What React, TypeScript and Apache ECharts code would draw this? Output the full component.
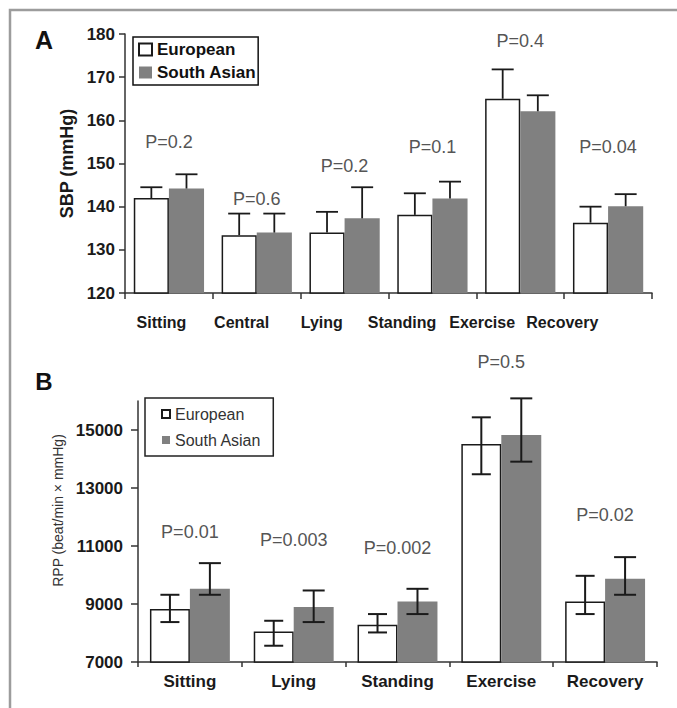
import React, { useEffect, useRef } from 'react';
import * as echarts from 'echarts';

const FONT = '"Liberation Sans", Arial, Helvetica, sans-serif';

// Panel A: SBP (mmHg)
const categoriesA = ['Sitting', 'Central', 'Lying', 'Standing', 'Exercise', 'Recovery'];
const europeanA = [142, 133.4, 134, 138.1, 165, 136.3];
const southAsianA = [144.2, 134, 137.3, 141.9, 162.1, 140.1];
const europeanAErrTop = [144.5, 138.4, 138.8, 143.1, 171.8, 140];
const southAsianAErrTop = [147.5, 138.4, 144.5, 145.8, 165.8, 142.9];
const pValuesA = ['P=0.2', 'P=0.6', 'P=0.2', 'P=0.1', 'P=0.4', 'P=0.04'];
const pLabelLevelA = [155, 141.8, 149.4, 153.8, 178.4, 153.8];
const axisMinA = 120;
const axisMaxA = 180;
const axisStepA = 10;

// Panel B: RPP (beat/min x mmHg)
const categoriesB = ['Sitting', 'Lying', 'Standing', 'Exercise', 'Recovery'];
const europeanB = [8825, 8054, 8284, 14517, 9087];
const europeanBErrHigh = [9318, 8422, 8653, 15437, 9972];
const europeanBErrLow = [8377, 7561, 8019, 13474, 8653];
const southAsianB = [9524, 8894, 9087, 14827, 9868];
const southAsianBErrHigh = [10409, 9466, 9524, 16091, 10616];
const southAsianBErrLow = [9318, 8377, 8653, 13908, 9318];
const pValuesB = ['P=0.01', 'P=0.003', 'P=0.002', 'P=0.5', 'P=0.02'];
const pLabelLevelB = [11497, 11211, 10936, 17341, 12072];
const tickValuesB = [7000, 9000, 11000, 13000, 15000];
const axisMinB = 7000;
const axisMaxB = 16000;

const seriesNames = ['European', 'South Asian'];

const GAP_A = 0.2;
const GAP_B = 0.23;

function errorSeries(
  xAxisIndex: number,
  yAxisIndex: number,
  side: number,
  base: number[],
  high: number[],
  low: number[] | null,
  gap: number,
  capW: number,
  lineWidth: number,
) {
  return {
    type: 'custom',
    xAxisIndex,
    yAxisIndex,
    z: 10,
    silent: true,
    encode: { x: 0, y: 1 },
    data: high.map((h, i) => [i, h, low ? low[i] : base[i]]),
    renderItem: (params: any, api: any) => {
      const i = api.value(0);
      const top = api.coord([i, api.value(1)]);
      const bot = api.coord([i, api.value(2)]);
      const band = api.size([1, 0])[0];
      const w = (band * (1 - gap)) / 2;
      const x = top[0] + (side === 0 ? -w / 2 : w / 2);
      const style = { stroke: '#1a1a1a', lineWidth };
      const children: any[] = [
        { type: 'line', shape: { x1: x, y1: top[1], x2: x, y2: bot[1] }, style },
        { type: 'line', shape: { x1: x - capW / 2, y1: top[1], x2: x + capW / 2, y2: top[1] }, style },
      ];
      if (low) {
        children.push({
          type: 'line',
          shape: { x1: x - capW / 2, y1: bot[1], x2: x + capW / 2, y2: bot[1] },
          style,
        });
      }
      return { type: 'group', children };
    },
  };
}

function pLabelSeries(xAxisIndex: number, yAxisIndex: number, levels: number[], texts: string[]) {
  return {
    type: 'custom',
    xAxisIndex,
    yAxisIndex,
    z: 11,
    silent: true,
    encode: { x: 0, y: 1 },
    data: levels.map((v, i) => [i, v]),
    renderItem: (params: any, api: any) => {
      const p = api.coord([api.value(0), api.value(1)]);
      return {
        type: 'text',
        x: p[0],
        y: p[1],
        style: {
          text: texts[params.dataIndex],
          fill: '#555555',
          fontSize: 18,
          fontFamily: FONT,
          fontWeight: 'normal',
          align: 'center',
          verticalAlign: 'middle',
        },
      };
    },
  };
}

export default function App() {
  const ref = useRef<HTMLDivElement>(null);

  useEffect(() => {
    if (!ref.current) return;
    const chart = echarts.init(ref.current, null, { renderer: 'svg' });

    const axisLine = { show: true, lineStyle: { color: '#333333', width: 1.5 } };
    const axisTick = { show: true, inside: false, length: 6, lineStyle: { color: '#333333', width: 1.5 } };

    const option: any = {
      animation: false,
      backgroundColor: '#ffffff',
      textStyle: { fontFamily: FONT },
      graphic: [
        {
          type: 'rect',
          shape: { x: 10, y: 10, width: 720, height: 740 },
          style: { fill: 'none', stroke: '#9c9c9c', lineWidth: 2.5 },
          silent: true,
        },
        {
          type: 'text',
          x: 44,
          y: 40,
          style: {
            text: 'A',
            fontSize: 25,
            fontWeight: 'bold',
            fontFamily: FONT,
            fill: '#111111',
            align: 'center',
            verticalAlign: 'middle',
          },
        },
        {
          type: 'text',
          x: 44,
          y: 381,
          style: {
            text: 'B',
            fontSize: 24,
            fontWeight: 'bold',
            fontFamily: FONT,
            fill: '#111111',
            align: 'center',
            verticalAlign: 'middle',
          },
        },
      ],
      legend: [
        {
          data: seriesNames,
          orient: 'vertical',
          left: 133,
          top: 37,
          padding: [4, 2, 4, 5],
          itemWidth: 13,
          itemHeight: 12,
          itemGap: 6,
          icon: 'rect',
          borderColor: '#111111',
          borderWidth: 1.5,
          selectedMode: false,
          textStyle: { fontSize: 17, fontWeight: 'bold', color: '#111111', fontFamily: FONT },
        },
        {
          data: seriesNames,
          orient: 'vertical',
          left: 145,
          top: 398,
          padding: [8, 12, 8, 16],
          itemWidth: 8,
          itemHeight: 8,
          itemGap: 10,
          icon: 'rect',
          borderColor: '#222222',
          borderWidth: 1.5,
          selectedMode: false,
          textStyle: { fontSize: 16, fontWeight: 'normal', color: '#333333', fontFamily: FONT },
        },
      ],
      grid: [
        { left: 125, top: 34, width: 527, height: 259, containLabel: false },
        { left: 121.4, top: 34, width: 481, height: 259, containLabel: false },
        { left: 138, top: 401, width: 519, height: 261, containLabel: false },
      ],
      xAxis: [
        {
          type: 'category',
          gridIndex: 0,
          data: categoriesA,
          axisLine,
          axisTick: { ...axisTick, alignWithLabel: false, interval: 0 },
          axisLabel: { show: false },
          splitLine: { show: false },
        },
        {
          type: 'category',
          gridIndex: 1,
          data: categoriesA,
          axisLine: { show: false },
          axisTick: { show: false },
          axisLabel: {
            show: true,
            interval: 0,
            margin: 21,
            fontSize: 16,
            fontWeight: 'bold',
            color: '#1a1a1a',
            fontFamily: FONT,
          },
          splitLine: { show: false },
        },
        {
          type: 'category',
          gridIndex: 2,
          data: categoriesB,
          axisLine,
          axisTick: { ...axisTick, length: 5, alignWithLabel: false, interval: 0 },
          axisLabel: {
            show: true,
            interval: 0,
            margin: 11,
            fontSize: 17,
            fontWeight: 'bold',
            color: '#1a1a1a',
            fontFamily: FONT,
          },
          splitLine: { show: false },
        },
      ],
      yAxis: [
        {
          type: 'value',
          gridIndex: 0,
          min: axisMinA,
          max: axisMaxA,
          interval: axisStepA,
          name: 'SBP (mmHg)',
          nameLocation: 'middle',
          nameGap: 48,
          nameTextStyle: { fontSize: 18, fontWeight: 'bold', color: '#1a1a1a', fontFamily: FONT },
          axisLine,
          axisTick,
          axisLabel: { margin: 10, fontSize: 17, fontWeight: 'bold', color: '#1a1a1a', fontFamily: FONT },
          splitLine: { show: false },
        },
        {
          type: 'value',
          gridIndex: 1,
          show: false,
          min: 0,
          max: 1,
        },
        {
          type: 'value',
          gridIndex: 2,
          min: axisMinB,
          max: axisMaxB,
          name: 'RPP (beat/min \u00d7 mmHg)',
          nameLocation: 'middle',
          nameGap: 70,
          nameTextStyle: {
            fontSize: 14,
            fontWeight: 'normal',
            color: '#333333',
            fontFamily: FONT,
            padding: [0, 0, 0, 42],
          },
          axisLine,
          axisTick: { ...axisTick, length: 7, customValues: tickValuesB },
          axisLabel: {
            margin: 15,
            fontSize: 17,
            fontWeight: 'bold',
            color: '#1a1a1a',
            fontFamily: FONT,
            customValues: tickValuesB,
            formatter: (v: number) => String(v),
          },
          splitLine: { show: false },
        },
      ],
      series: [
        {
          name: seriesNames[0],
          type: 'bar',
          xAxisIndex: 0,
          yAxisIndex: 0,
          data: europeanA,
          barGap: '0%',
          barCategoryGap: GAP_A * 100 + '%',
          itemStyle: { color: '#ffffff', borderColor: '#1a1a1a', borderWidth: 1.5 },
          silent: true,
        },
        {
          name: seriesNames[1],
          type: 'bar',
          xAxisIndex: 0,
          yAxisIndex: 0,
          data: southAsianA,
          barGap: '0%',
          barCategoryGap: GAP_A * 100 + '%',
          itemStyle: { color: '#808080' },
          silent: true,
        },
        errorSeries(0, 0, 0, europeanA, europeanAErrTop, null, GAP_A, 22, 1.8),
        errorSeries(0, 0, 1, southAsianA, southAsianAErrTop, null, GAP_A, 22, 1.8),
        pLabelSeries(0, 0, pLabelLevelA, pValuesA),
        {
          name: seriesNames[0],
          type: 'bar',
          xAxisIndex: 2,
          yAxisIndex: 2,
          data: europeanB,
          barGap: '0%',
          barCategoryGap: GAP_B * 100 + '%',
          itemStyle: { color: '#ffffff', borderColor: '#1a1a1a', borderWidth: 1.5 },
          silent: true,
        },
        {
          name: seriesNames[1],
          type: 'bar',
          xAxisIndex: 2,
          yAxisIndex: 2,
          data: southAsianB,
          barGap: '0%',
          barCategoryGap: GAP_B * 100 + '%',
          itemStyle: { color: '#808080' },
          silent: true,
        },
        errorSeries(2, 2, 0, europeanB, europeanBErrHigh, europeanBErrLow, GAP_B, 19, 2),
        errorSeries(2, 2, 1, southAsianB, southAsianBErrHigh, southAsianBErrLow, GAP_B, 22, 2),
        pLabelSeries(2, 2, pLabelLevelB, pValuesB),
      ],
    };

    chart.setOption(option);
    return () => {
      chart.dispose();
    };
  }, []);

  return (
    <div
      ref={ref}
      style={{ position: 'fixed', left: 0, top: 0, width: 677, height: 708, background: '#ffffff' }}
    />
  );
}
